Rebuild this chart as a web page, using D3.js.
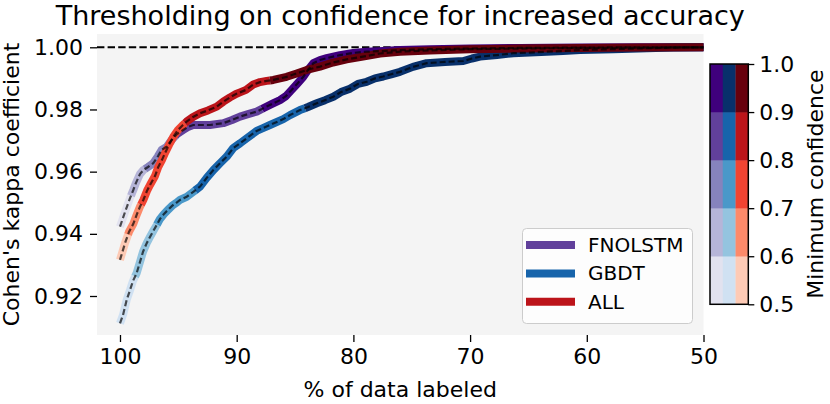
<!DOCTYPE html>
<html><head><meta charset="utf-8">
<script src="https://cdn.jsdelivr.net/npm/d3@7"></script>
<style>body{margin:0;background:#fff}svg{display:block}text{font-family:"DejaVu Sans",sans-serif}</style>
</head><body>
<svg id="c" width="830" height="404"></svg>
<script>
// ---- data ----
const seriesNames = ["FNOLSTM", "GBDT", "ALL"];
const fnolstmX = [100,99.57,99.14,98.86,98.63,98.29,98.0,97.6,97.15,96.74,96.43,96.0,95.57,95.12,94.58,94.17,93.72,93.14,92.29,91.15,90.4,89.72,89.03,88.29,87.72,86.97,86.29,85.78,85.29,84.83,84.29,83.89,83.43,82.86,82.29,81.15,80.03,78.86,77.46,76.01,73.44,70.01,65.72,60.58,55.44,50];
const fnolstmY = [0.9423,0.9470,0.9515,0.9541,0.9564,0.9592,0.9605,0.9615,0.9627,0.9650,0.9670,0.9680,0.9702,0.9721,0.9734,0.9744,0.9750,0.9750,0.9750,0.9756,0.9766,0.9777,0.9785,0.9793,0.9804,0.9818,0.9830,0.9843,0.9863,0.9882,0.9905,0.9927,0.9949,0.9959,0.9965,0.9975,0.9982,0.9986,0.9988,0.9991,0.9994,0.9996,0.9998,0.9999,1.0,1.0];
const gbdtX = [100,99.74,99.43,99.14,98.89,98.57,98.29,98.03,97.71,97.43,97.15,96.86,96.57,96.23,95.89,95.54,95.2,94.86,94.29,93.72,93.14,92.57,92.0,91.43,90.86,90.29,89.72,89.12,88.29,87.75,87.15,86.01,85.43,84.58,83.89,83.14,82.43,81.72,81.06,80.29,79.61,78.86,78.15,77.44,76.69,76.01,74.9,73.72,72.15,70.58,69.84,69.15,67.7,66.3,64.87,63.44,62.04,60.58,57.73,54.87,52.59,50];
const gbdtY = [0.9112,0.9139,0.9187,0.9219,0.9248,0.9274,0.9309,0.9342,0.9370,0.9390,0.9409,0.9428,0.9448,0.9464,0.9477,0.9490,0.9499,0.9509,0.9519,0.9535,0.9552,0.9580,0.9605,0.9627,0.9648,0.9676,0.9691,0.9708,0.9731,0.9740,0.9750,0.9769,0.9782,0.9798,0.9808,0.9820,0.9830,0.9841,0.9856,0.9867,0.9882,0.9889,0.9900,0.9906,0.9914,0.9921,0.9937,0.9949,0.9953,0.9956,0.9964,0.9970,0.9975,0.9981,0.9983,0.9986,0.9988,0.9991,0.9994,0.9997,0.9999,1.0];
const allX = [100,99.57,99.23,98.86,98.54,98.29,98.0,97.69,97.43,97.0,96.72,96.4,96.14,95.8,95.43,95.03,94.69,94.29,93.74,93.14,92.46,91.71,91.15,90.57,90.06,89.72,89.2,88.58,88.0,87.43,86.86,85.72,84.86,84.0,82.86,81.75,80.57,79.18,77.72,76.01,73.44,70.01,65.72,60.58,55.44,50];
const allY = [0.9316,0.9370,0.9406,0.9432,0.9464,0.9487,0.9509,0.9538,0.9557,0.9586,0.9615,0.9638,0.9660,0.9686,0.9712,0.9734,0.9747,0.9761,0.9776,0.9788,0.9797,0.9809,0.9825,0.9839,0.9850,0.9855,0.9863,0.9880,0.9888,0.9892,0.9895,0.9905,0.9916,0.9927,0.9938,0.9951,0.9961,0.9970,0.9980,0.9986,0.9990,0.9994,0.9996,0.9998,0.9999,1.0];
// % labeled at which the minimum confidence passes 0.6, 0.7, 0.8, 0.9
const fnolstmBreaks = [99.06, 97.86, 95.29, 87.83];
const gbdtBreaks = [98.71, 96.83, 93.57, 84.15];
const allBreaks = [99.31, 98.2, 94.43, 87.15];
const confLevels = [0.5, 0.6, 0.7, 0.8, 0.9, 1.0];
const xTicks = [100, 90, 80, 70, 60, 50];
const yTicks = [0.92, 0.94, 0.96, 0.98, 1.00];

// ---- styles ----
const palettes = [
  ["#e2e2ef","#b6b5d8","#8683bd","#61409b","#3f007d"],
  ["#d0e1f2","#94c4df","#4a98c9","#1764ab","#08306b"],
  ["#fdcab5","#fc8a6a","#f14432","#bc141a","#67000d"]
];
const seriesData = [
  {x: fnolstmX, y: fnolstmY, b: fnolstmBreaks},
  {x: gbdtX, y: gbdtY, b: gbdtBreaks},
  {x: allX, y: allY, b: allBreaks}
];

const svg = d3.select("#c");
const L = 97, R = 703.5, T = 34, B = 335;
const x = d3.scaleLinear().domain([101.97, 50]).range([L, R]);
const y = d3.scaleLinear().domain([0.92, 1.0]).range([296, 47.3]);

svg.append("rect").attr("x", L).attr("y", T).attr("width", R - L).attr("height", B - T).attr("fill", "#f4f4f4");

// reference line
svg.append("line").attr("x1", L).attr("x2", R).attr("y1", y(1)).attr("y2", y(1))
  .attr("stroke", "#000").attr("stroke-width", 2).attr("stroke-dasharray", "7.4,3.2");

const line = d3.line().x(d => x(d[0])).y(d => y(d[1]));

seriesData.forEach((s, si) => {
  const pts = s.x.map((v, i) => [v, s.y[i]]);
  const band = v => { let k = 0; s.b.forEach(bv => { if (v < bv) k++; }); return k; };
  const runs = [[pts[0]]];
  let cur = band(pts[0][0]);
  const runBand = [cur];
  for (let i = 1; i < pts.length; i++) {
    const p0 = pts[i - 1], p1 = pts[i];
    const bNew = band(p1[0]);
    while (cur < bNew) {
      const bv = s.b[cur];
      const t = (p0[0] - bv) / (p0[0] - p1[0]);
      const bp = [bv, p0[1] + t * (p1[1] - p0[1])];
      runs[runs.length - 1].push(bp);
      runs.push([bp]);
      cur++;
      runBand.push(cur);
    }
    runs[runs.length - 1].push(p1);
  }
  runs.forEach((r, ri) => {
    svg.append("path").attr("d", line(r)).attr("fill", "none")
      .attr("stroke", palettes[si][runBand[ri]]).attr("stroke-width", 8)
      .attr("stroke-linejoin", "round").attr("stroke-linecap", "butt");
  });
  s.pts = pts;
});
seriesData.forEach(s => {
  svg.append("path").attr("d", line(s.pts)).attr("fill", "none")
    .attr("stroke", "#000").attr("stroke-opacity", 0.68).attr("stroke-width", 2.2)
    .attr("stroke-dasharray", "6,3");
});

// axes
const fontSize = 22;
const xAxis = svg.append("g").attr("transform", `translate(0,${B})`)
  .call(d3.axisBottom(x).tickValues(xTicks).tickFormat(d3.format("d")).tickSize(7).tickPadding(6));
const yAxis = svg.append("g").attr("transform", `translate(${L},0)`)
  .call(d3.axisLeft(y).tickValues(yTicks).tickFormat(d3.format(".2f")).tickSize(7).tickPadding(7));
[xAxis, yAxis].forEach(a => {
  a.select(".domain").remove();
  a.selectAll(".tick line").attr("stroke", "#000").attr("stroke-width", 1.3);
  a.selectAll(".tick text").attr("font-size", fontSize).attr("fill", "#000").style("font-family", "DejaVu Sans");
});

svg.append("text").attr("x", (L + R) / 2).attr("y", 397).attr("text-anchor", "middle")
  .attr("font-size", fontSize).text("% of data labeled");
svg.append("text").attr("transform", `translate(19,${(T + B) / 2}) rotate(-90)`).attr("text-anchor", "middle")
  .attr("font-size", fontSize).text("Cohen's kappa coefficient");
svg.append("text").attr("x", (L + R) / 2).attr("y", 25).attr("text-anchor", "middle")
  .attr("font-size", 27).text("Thresholding on confidence for increased accuracy");

// legend
const lg = svg.append("g");
lg.append("rect").attr("x", 522.5).attr("y", 228.5).attr("width", 170).attr("height", 95).attr("rx", 4)
  .attr("fill", "#fff").attr("fill-opacity", 0.8).attr("stroke", "#cccccc").attr("stroke-width", 1);
seriesNames.forEach((n, i) => {
  const yy = 245 + i * 28.4;
  lg.append("line").attr("x1", 526).attr("x2", 575).attr("y1", yy).attr("y2", yy)
    .attr("stroke", palettes[i][3]).attr("stroke-width", 8);
  lg.append("text").attr("x", 588).attr("y", yy + 7).attr("font-size", 20).text(n);
});

// colorbar
const cbL = 710, cbR = 748.3, cbT = 64, cbB = 304.3;
const cy = d3.scaleLinear().domain([0.5, 1.0]).range([cbB, cbT]);
const cx = d3.scaleBand().domain([0, 1, 2]).range([cbL, cbR]);
for (let si = 0; si < 3; si++) {
  for (let k = 0; k < 5; k++) {
    svg.append("rect").attr("x", cx(si)).attr("width", cx.bandwidth() + 0.3)
      .attr("y", cy(confLevels[k + 1])).attr("height", cy(confLevels[k]) - cy(confLevels[k + 1]) + 0.3)
      .attr("fill", palettes[si][k]);
  }
}
svg.append("rect").attr("x", cbL).attr("y", cbT).attr("width", cbR - cbL).attr("height", cbB - cbT)
  .attr("fill", "none").attr("stroke", "#000").attr("stroke-width", 1.5);
const cAxis = svg.append("g").attr("transform", `translate(${cbR},0)`)
  .call(d3.axisRight(cy).tickValues(confLevels).tickFormat(d3.format(".1f")).tickSize(6).tickPadding(5));
cAxis.select(".domain").remove();
cAxis.selectAll(".tick line").attr("stroke", "#000").attr("stroke-width", 1.3);
cAxis.selectAll(".tick text").attr("font-size", fontSize).attr("fill", "#000").style("font-family", "DejaVu Sans");
svg.append("text").attr("transform", `translate(823,${(cbT + cbB) / 2}) rotate(-90)`).attr("text-anchor", "middle")
  .attr("font-size", fontSize).text("Minimum confidence");
</script>
</body></html>
